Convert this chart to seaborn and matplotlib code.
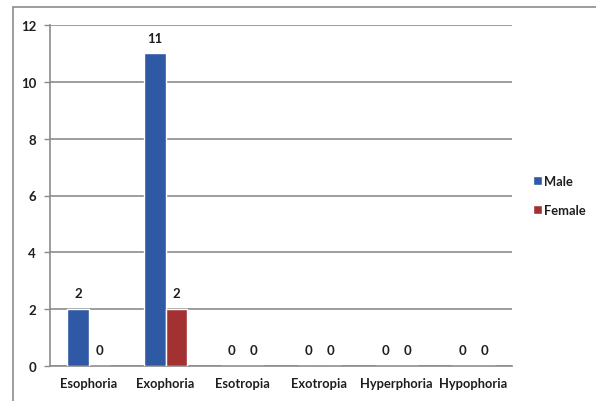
import matplotlib
matplotlib.use("Agg")
import matplotlib.pyplot as plt
from matplotlib.patches import Rectangle
import seaborn as sns
import pandas as pd

categories = ["Esophoria", "Exophoria", "Esotropia", "Exotropia", "Hyperphoria", "Hypophoria"]
male = [2, 11, 0, 0, 0, 0]
female = [0, 2, 0, 0, 0, 0]
groups = ["Male", "Female"]
yticks = [0, 2, 4, 6, 8, 10, 12]

df = pd.DataFrame({
    "category": categories * 2,
    "count": male + female,
    "sex": ["Male"] * len(categories) + ["Female"] * len(categories),
})

sns.set_theme(style="white")
plt.rcParams["font.family"] = ["Lato", "DejaVu Sans"]
plt.rcParams["font.weight"] = "bold"
plt.rcParams["text.color"] = "#1e1e1e"

fig = plt.figure(figsize=(5.96, 4.02), dpi=100)
ax = fig.add_axes([50 / 596, 35 / 402, 462 / 596, 341 / 402])

# outer chart frame
fig.patches.append(Rectangle((13 / 596, -0.1), 1.2, 0.1 + (402 - 8) / 402,
                             transform=fig.transFigure, fill=False,
                             edgecolor="#8c8c8c", linewidth=1.2))

palette = {"Male": "#2f58a5", "Female": "#a33131"}
sns.barplot(data=df, x="category", y="count", hue="sex", hue_order=groups,
            order=categories, palette=palette, width=0.55, gap=0,
            saturation=1, ax=ax, legend=True, zorder=3)

ax.set_ylim(0, 12)
ax.set_xlim(-0.5, len(categories) - 0.5)
ax.set_yticks(yticks)
ax.set_yticklabels([str(t) for t in yticks], fontsize=9.5, fontweight="bold",
                   color="#1e1e1e")
ax.set_xticks(range(len(categories)))
ax.set_xticklabels(categories, fontsize=9.3, fontweight="bold", color="#1e1e1e")
ax.set_xticks([i + 0.5 for i in range(-1, len(categories))], minor=True)
ax.tick_params(axis="x", which="major", length=0, pad=8)
ax.tick_params(axis="x", which="minor", length=4, color="#8c8c8c", width=1)
ax.tick_params(axis="y", length=4, color="#8c8c8c", width=1, left=True, pad=6)
ax.set_xlabel("")
ax.set_ylabel("")
ax.yaxis.grid(True, color="#8c8c8c", linewidth=1.2, zorder=0)
for side in ("top", "right"):
    ax.spines[side].set_visible(False)
for side in ("left", "bottom"):
    ax.spines[side].set_color("#8c8c8c")
    ax.spines[side].set_linewidth(1.2)

for cont in ax.containers:
    ax.bar_label(cont, labels=[f"{int(v)}" for v in cont.datavalues],
                 padding=7, fontsize=9.5, fontweight="bold", color="#1e1e1e")

leg = ax.legend(loc="center left", bbox_to_anchor=(1.02, 0.5), frameon=False,
                handlelength=0.7, handleheight=0.7, handletextpad=0.15,
                labelspacing=1.3, fontsize=9.3)
for t in leg.get_texts():
    t.set_fontweight("bold")

fig.savefig("out.png", dpi=100)
